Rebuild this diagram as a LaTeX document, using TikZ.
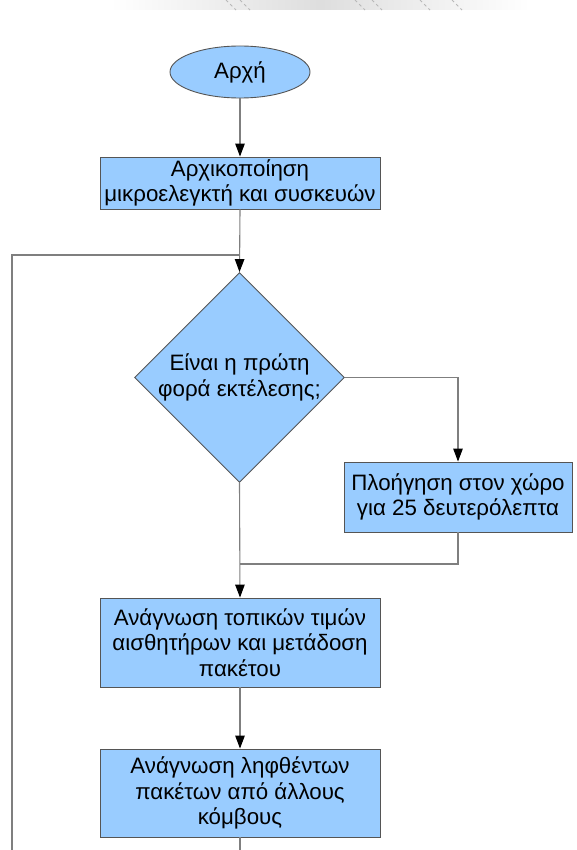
\documentclass[tikz,border=0pt]{standalone}
\usepackage{fontspec}
\setmainfont{Liberation Sans}
\usetikzlibrary{shapes.geometric,arrows.meta}
\definecolor{boxfill}{HTML}{99CCFF}
\definecolor{boxedge}{HTML}{555555}
\definecolor{wire}{HTML}{7F7F7F}
\begin{document}
\begin{tikzpicture}[x=1pt,y=-1pt,
  every node/.style={font=\fontsize{22.3}{25.5}\selectfont, align=center},
  stepbox/.style={rectangle, draw=boxedge, fill=boxfill, line width=0.9pt, inner sep=0pt},
  startbox/.style={ellipse, draw=boxedge, fill=boxfill, line width=0.9pt, inner sep=0pt,
    minimum width=140, minimum height=52},
  decbox/.style={diamond, draw=boxedge, fill=boxfill, line width=0.9pt, inner sep=0pt,
    minimum width=210, minimum height=210},
  wireline/.style={draw=wire, line width=1.1pt},
  flow/.style={wireline, -{Triangle[length=13pt,width=9.5pt,fill=black,color=black]}}
]
\useasboundingbox (0,0) rectangle (577,850);
\clip (0,0) rectangle (577,850);

% faint band along the top edge
\shade[left color=white, right color=white, middle color=black!13] (110,0) rectangle (530,10);
\foreach \x in {226,240,355,372,420,452}
  \draw[black!28, dashed, line width=0.8pt] (\x,0) -- (\x+10,10);

% shapes
\node[startbox] (start) at (240,72) {Αρχή};
\node[stepbox, minimum width=280, minimum height=52] (init) at (240,183)
  {Αρχικοποίηση\\μικροελεγκτή και συσκευών};
\node[decbox] (dec) at (239.5,377.5) {};
\node at (dec.center) {Είναι η πρώτη\\φορά εκτέλεσης;};
\node[stepbox, minimum width=228, minimum height=70] (nav) at (458,497)
  {Πλοήγηση στον χώρο\\για 25 δευτερόλεπτα};
\node[stepbox, minimum width=280, minimum height=89] (read) at (240,642.5)
  {Ανάγνωση τοπικών τιμών\\αισθητήρων και μετάδοση\\πακέτου};
\node[stepbox, minimum width=280, minimum height=88] (recv) at (240,793)
  {Ανάγνωση ληφθέντων\\πακέτων από άλλους\\κόμβους};

% junction points and the free end of the return loop
\coordinate (loopin) at (240,255);
\coordinate (merge) at (240,564);
\coordinate (loopbottom) at (12,880);
\coordinate (recvout) at (240,880);

% connectors
\draw[flow] (start.south) -- (init.north);
\draw[flow] (init.south) -- (dec.north);
\draw[wireline] (loopbottom) |- (loopin);
\draw[flow] (dec.east) -| (nav.north);
\draw[wireline] (nav.south) |- (merge);
\draw[flow] (dec.south) -- (read.north);
\draw[flow] (read.south) -- (recv.north);
\draw[wireline] (recv.south) -- (recvout);
\end{tikzpicture}
\end{document}
